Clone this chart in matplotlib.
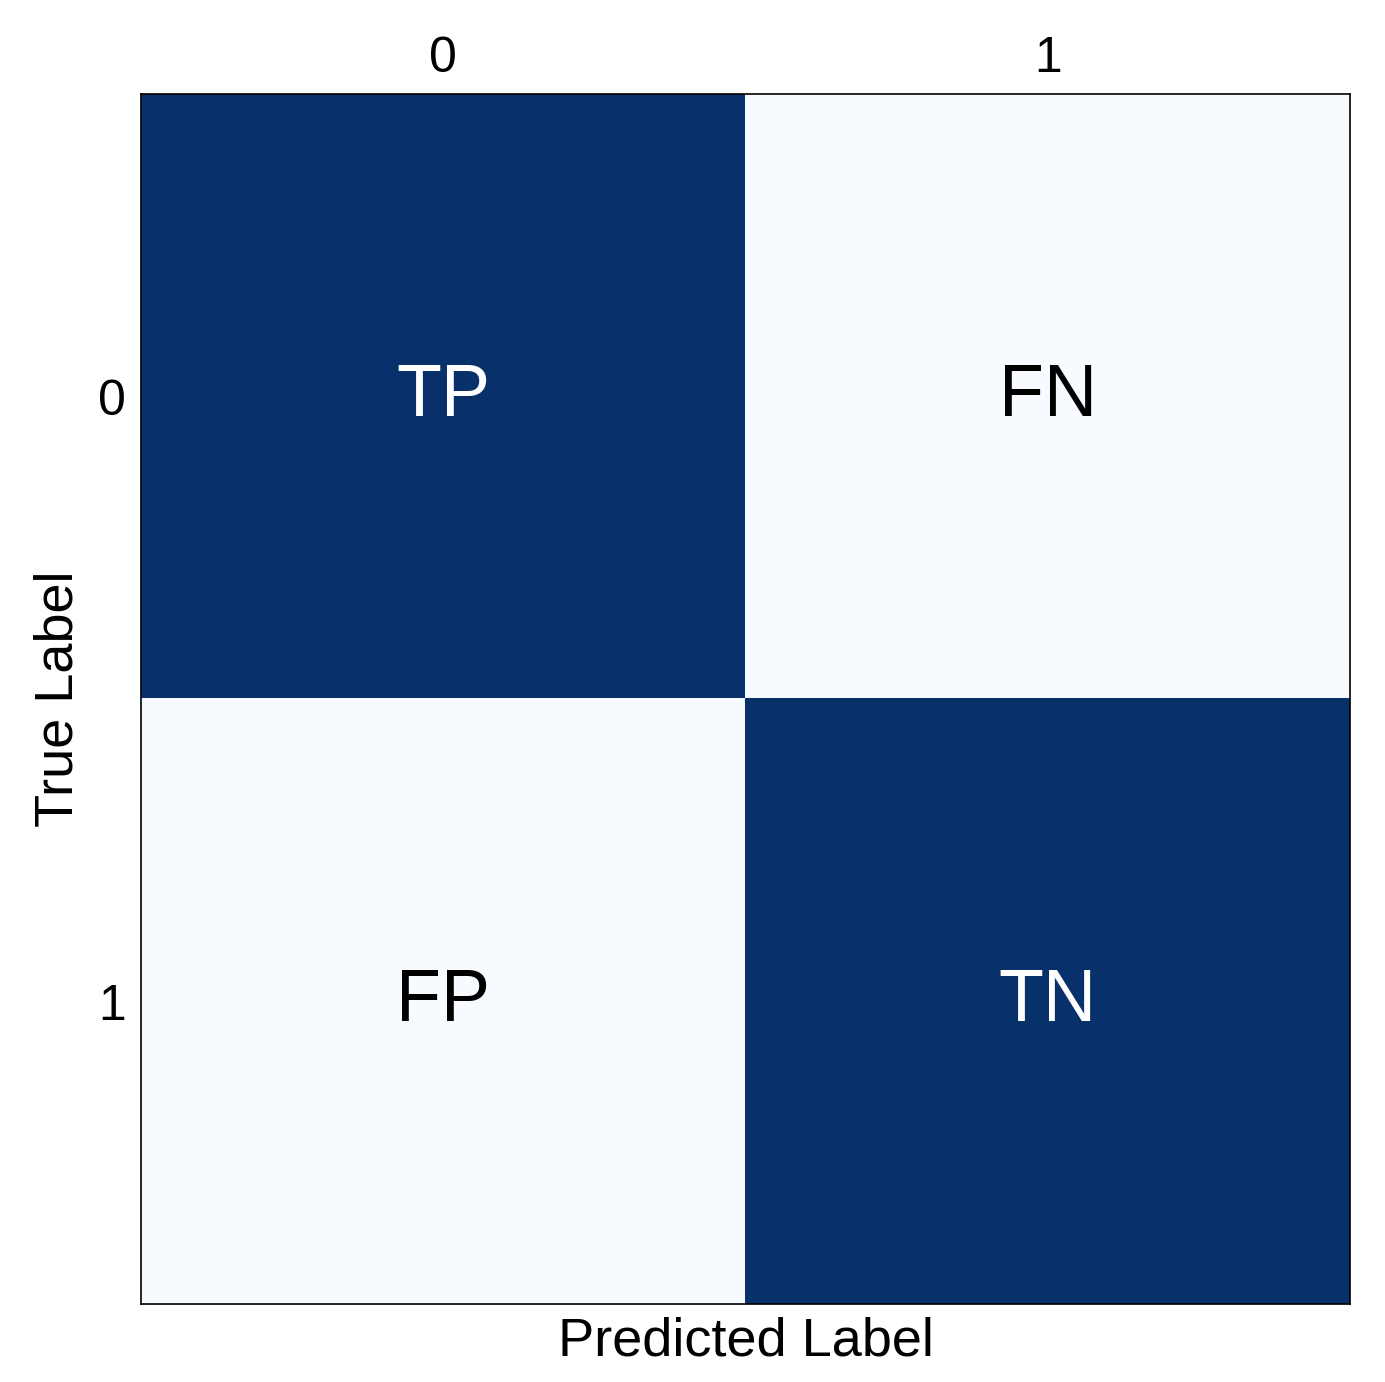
import matplotlib
matplotlib.use("Agg")
import matplotlib.pyplot as plt
import numpy as np

# confusion-matrix layout: 1 = dark cell, 0 = light cell
classes = ["0", "1"]
cell_values = np.array([[1, 0],
                        [0, 1]])
cell_text = [["TP", "FN"],
             ["FP", "TN"]]

plt.rcParams["font.family"] = ["Liberation Sans", "DejaVu Sans"]

fig = plt.figure(figsize=(13.85, 13.82), dpi=100)
ax = fig.add_axes([141 / 1385, 1 - 1304 / 1382, (1350 - 141) / 1385, (1304 - 94) / 1382])

ax.imshow(cell_values, cmap="Blues", vmin=0, vmax=1, aspect="auto",
          interpolation="nearest")

for i in range(len(classes)):
    for j in range(len(classes)):
        color = "white" if cell_values[i, j] > 0.5 else "black"
        ax.text(j, i, cell_text[i][j], ha="center", va="center",
                fontsize=53, color=color)

ax.set_xticks(range(len(classes)))
ax.set_yticks(range(len(classes)))
ax.set_xticklabels(classes, fontsize=36)
ax.set_yticklabels(classes, fontsize=36)
ax.xaxis.tick_top()
ax.tick_params(axis="x", length=0, pad=9)
ax.tick_params(axis="y", length=0, pad=11)
ax.set_xlabel("Predicted Label", fontsize=39, labelpad=9)
ax.set_ylabel("True Label", fontsize=39, labelpad=10)
for s in ax.spines.values():
    s.set_linewidth(1.2)

fig.savefig("out.png", dpi=100)
